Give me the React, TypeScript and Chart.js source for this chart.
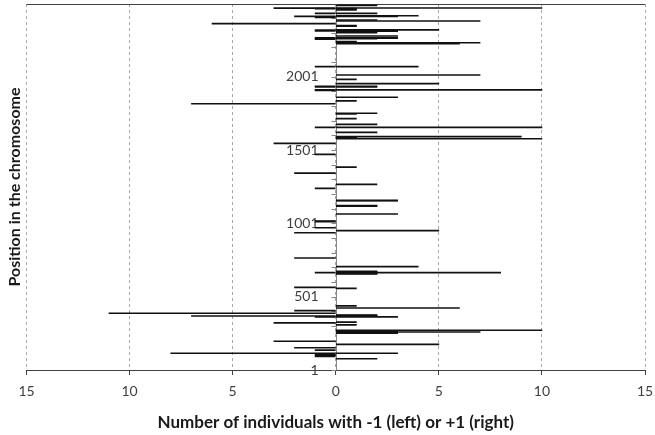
import { useEffect, useRef } from 'react';
import { Chart, registerables } from 'chart.js';

Chart.register(...registerables);

// ---- data ----
const xTickLabels = ['15', '10', '5', '0', '5', '10', '15'];
const yLabelTicks = [1, 501, 1001, 1501, 2001];
const yMarkTicks = [1, 101, 201, 301, 401, 501, 601, 701, 801, 901, 1001, 1101, 1201, 1301, 1401, 1501, 1601, 1701, 1801, 1901, 2001, 2101, 2201, 2301, 2401];

// individuals with -1 (drawn to the left)
const minusPositions = [2469, 2465, 2433, 2413, 2406, 2363, 2319, 2314, 2267, 2262, 2258, 2070, 1936, 1932, 1911, 1908, 1817, 1656, 1546, 1471, 1344, 1240, 1017, 1013, 971, 937, 765, 665, 565, 406, 388, 369, 363, 322, 197, 153, 137, 115, 106, 100, 94];
const minusCounts = [3, 1, 1, 2, 1, 6, 1, 1, 1, 1, 1, 1, 1, 1, 1, 1, 7, 1, 3, 1, 2, 1, 1, 1, 1, 2, 2, 1, 2, 2, 11, 7, 1, 3, 3, 2, 1, 8, 1, 1, 1];

// individuals with +1 (drawn to the right)
const plusPositions = [2488, 2470, 2465, 2461, 2457, 2433, 2417, 2412, 2388, 2381, 2349, 2346, 2321, 2315, 2311, 2302, 2279, 2267, 2264, 2260, 2240, 2236, 2233, 2226, 2070, 2013, 1983, 1954, 1936, 1931, 1911, 1861, 1836, 1752, 1748, 1715, 1676, 1656, 1621, 1592, 1589, 1586, 1578, 1385, 1267, 1158, 1155, 1122, 1119, 1065, 951, 706, 674, 670, 665, 660, 656, 558, 438, 424, 376, 372, 368, 363, 327, 309, 272, 268, 264, 260, 256, 252, 176, 115, 78];
const plusCounts = [2, 10, 1, 1, 1, 2, 4, 3, 2, 7, 1, 1, 5, 3, 3, 2, 3, 3, 3, 2, 1, 1, 7, 6, 4, 7, 1, 5, 2, 2, 10, 3, 1, 2, 1, 1, 2, 10, 2, 9, 1, 1, 10, 1, 2, 3, 3, 2, 2, 3, 5, 4, 2, 2, 8, 2, 2, 1, 1, 6, 2, 2, 2, 3, 1, 1, 10, 3, 3, 7, 3, 3, 5, 3, 2];

const Y_MIN = 1;
const Y_MAX = 2497;
const FONT = 'Lato, "Open Sans", sans-serif';

// Draws the top frame line and the category axis that crosses at x = 0
const centerAxisPlugin = {
  id: 'centerAxis',
  beforeDatasetsDraw(chart: any) {
    const { ctx, chartArea: a, scales } = chart;
    const xs = scales.x;
    const ys = scales.y;
    ctx.save();
    // top frame line
    ctx.strokeStyle = '#404040';
    ctx.lineWidth = 1;
    ctx.beginPath();
    const ty = Math.round(a.top) + 0.5;
    ctx.moveTo(a.left, ty);
    ctx.lineTo(a.right, ty);
    ctx.stroke();

    // vertical axis at 0
    const x0 = Math.round(xs.getPixelForValue(0)) + 0.5;
    ctx.strokeStyle = '#868686';
    ctx.beginPath();
    ctx.moveTo(x0, a.top);
    ctx.lineTo(x0, a.bottom);
    ctx.stroke();

    // tick marks
    ctx.beginPath();
    yMarkTicks.forEach((v) => {
      const py = Math.round(ys.getPixelForValue(v)) + 0.5;
      ctx.moveTo(x0 - 5, py);
      ctx.lineTo(x0, py);
    });
    ctx.stroke();

    // labels
    ctx.fillStyle = '#404040';
    ctx.font = `14px ${FONT}`;
    ctx.textAlign = 'right';
    ctx.textBaseline = 'middle';
    yLabelTicks.forEach((v) => {
      ctx.fillText(String(v), x0 - 18, ys.getPixelForValue(v));
    });
    ctx.restore();
  },
};

export default function App() {
  const ref = useRef<HTMLCanvasElement | null>(null);

  useEffect(() => {
    if (!ref.current) return;
    const chart = new Chart(ref.current, {
      type: 'bar',
      data: {
        datasets: [
          {
            label: '-1',
            data: minusPositions.map((p, i) => ({ y: p, x: -minusCounts[i] })),
            backgroundColor: '#111111',
            borderWidth: 0,
            barThickness: 1,
            grouped: false,
          } as any,
          {
            label: '+1',
            data: plusPositions.map((p, i) => ({ y: p, x: plusCounts[i] })),
            backgroundColor: '#111111',
            borderWidth: 0,
            barThickness: 1,
            grouped: false,
          } as any,
        ],
      },
      options: {
        indexAxis: 'y',
        animation: false,
        responsive: false,
        events: [],
        layout: { padding: { left: 1.5, right: 3, top: 4, bottom: 1.8 } },
        plugins: { legend: { display: false }, tooltip: { enabled: false } },
        scales: {
          x: {
            type: 'linear',
            position: 'bottom',
            min: -15,
            max: 15,
            offset: false,
            afterFit: (s: any) => {
              s.paddingLeft = 8;
              s.paddingRight = 10;
            },
            ticks: {
              stepSize: 5,
              padding: 8,
              color: '#404040',
              font: { family: FONT, size: 14 },
              callback: (_v: any, i: number) => xTickLabels[i],
            },
            grid: {
              color: '#a6a6a6',
              lineWidth: 1,
              tickLength: 5,
              tickColor: '#404040',
              tickBorderDash: [],
            },
            border: { display: true, color: '#404040', width: 1, dash: [3, 3] },
            title: {
              display: true,
              text: 'Number of individuals with -1 (left) or +1 (right)',
              color: '#1a1a1a',
              font: { family: FONT, size: 17, weight: 'bold' },
              padding: { top: 5, bottom: 0 },
            },
          },
          y: {
            type: 'linear',
            position: 'left',
            display: true,
            offset: false,
            min: Y_MIN,
            max: Y_MAX,
            ticks: { display: false },
            grid: { display: false, drawTicks: false, offset: false },
            border: { display: false },
            title: {
              display: true,
              text: 'Position in the chromosome',
              color: '#1a1a1a',
              font: { family: FONT, size: 16, weight: 'bold' },
              padding: { top: 4, bottom: 1.8 },
            },
          },
        } as any,
      },
      plugins: [centerAxisPlugin],
    });
    return () => chart.destroy();
  }, []);

  return (
    <canvas
      ref={ref}
      width={655}
      height={435}
      style={{ position: 'absolute', left: 0, top: 0, width: 655, height: 435, display: 'block' }}
    />
  );
}
